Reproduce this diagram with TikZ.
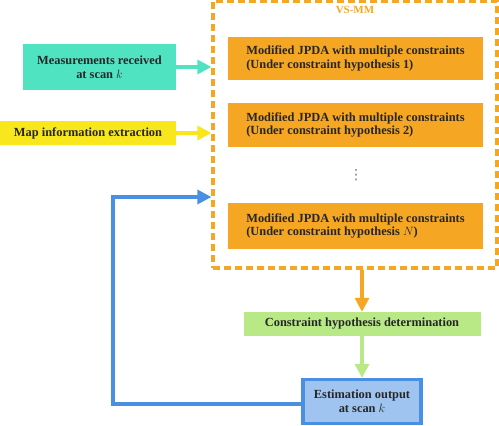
\documentclass[tikz,border=0pt]{standalone}
\usepackage{fontspec}
\setmainfont{Liberation Serif}
\newfontfamily\dotsfont{DejaVu Sans}
\usepackage{tikz}
\usetikzlibrary{arrows.meta}

\definecolor{tealbox}{RGB}{80,227,194}
\definecolor{yellowbox}{RGB}{248,231,28}
\definecolor{orangebox}{RGB}{245,166,35}
\definecolor{greenbox}{RGB}{184,233,134}
\definecolor{bluefill}{RGB}{160,196,240}
\definecolor{blueline}{RGB}{74,144,226}

\tikzset{
  blockbox/.style={minimum height=24pt, inner sep=0pt, font=\bfseries\fontsize{12.4}{13.6}\selectfont, text=black!85},
  modbox/.style={blockbox, fill=orangebox, minimum width=255pt, align=left},
  flowarrow/.style={line width=3.2pt, -{Triangle[length=14pt,width=14pt]}}
}

\begin{document}
\begin{tikzpicture}[x=1pt,y=-1pt]

% Frame of the picture
\useasboundingbox (0,0) rectangle (499,426);

% VS-MM dashed frame
\node[draw=orangebox, line width=3.2pt, dash pattern=on 7pt off 4pt,
      minimum width=284pt, minimum height=267pt, inner sep=0pt] (vsmm) at (355,134.5) {};
\node[text=orangebox, font=\bfseries\fontsize{11}{12}\selectfont, anchor=north] (vslabel) at (355,3) {VS-MM};

% Modified JPDA blocks inside the frame
\node[modbox, minimum height=43pt] (mod1) at (355.5,58.5) {Modified JPDA with multiple constraints\\(Under constraint hypothesis 1)};
\node[modbox, minimum height=44pt] (mod2) at (355.5,125) {Modified JPDA with multiple constraints\\(Under constraint hypothesis 2)};
\node[text=black!55, font=\dotsfont\fontsize{14}{15}\selectfont] (dots) at (356,175) {⋮};
\node[modbox, minimum height=46pt] (modN) at (355.5,226) {Modified JPDA with multiple constraints\\(Under constraint hypothesis $N$)};

% Inputs on the left
\node[blockbox, fill=tealbox, minimum width=153pt, minimum height=46pt, align=center] (meas) at (99.5,67) {Measurements received\\at scan $k$};
\node[blockbox, fill=yellowbox, minimum width=176pt] (map) at (88,133) {Map information extraction};

% Blocks below the frame
\node[blockbox, fill=greenbox, minimum width=237pt] (hyp) at (362,324) {Constraint hypothesis determination};
\node[blockbox, fill=bluefill, draw=blueline, line width=3.2pt, minimum width=118pt, minimum height=44pt, align=center] (est) at (362,401.5) {Estimation output\\at scan $k$};

% Connectors
\draw[flowarrow, tealbox] (meas.east) -- (vsmm.west |- meas.east);
\draw[flowarrow, yellowbox] (map.east) -- (vsmm.west |- map.east);
\draw[flowarrow, orangebox] (vsmm.south -| hyp.north) -- (hyp.north);
\draw[flowarrow, greenbox] (hyp.south) -- (est.north);

% Feedback loop
\coordinate (loopbot) at (113,404);
\coordinate (looptop) at (113,197);
\draw[flowarrow, blueline] (est.west |- loopbot) -- (loopbot) -- (looptop) -- (vsmm.west |- looptop);

\end{tikzpicture}
\end{document}
